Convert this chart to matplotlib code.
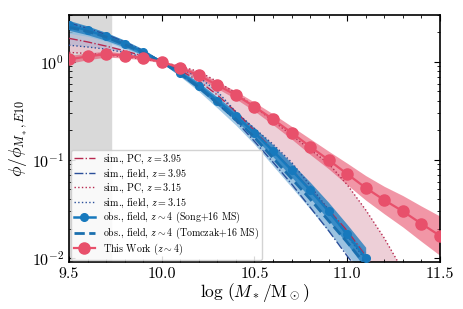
import numpy as np
import matplotlib
matplotlib.use("Agg")
import matplotlib.pyplot as plt

plt.rcParams['font.family'] = 'serif'
plt.rcParams['font.serif'] = ['cmr10']
plt.rcParams['mathtext.fontset'] = 'cm'
plt.rcParams['axes.formatter.use_mathtext'] = True

# data
mass = np.round(np.arange(9.5, 11.51, 0.1), 2)

this_work = [1.06, 1.14, 1.20, 1.16, 1.10, 1.00, 0.87, 0.73, 0.58, 0.46, 0.35,
             0.26, 0.19, 0.137, 0.10, 0.072, 0.052, 0.039, 0.030, 0.0224, 0.0169]
this_work_err = [0.04, 0.035, 0.03, 0.025, 0.02, 0.01, 0.025, 0.03, 0.035, 0.04, 0.045,
                 0.055, 0.065, 0.08, 0.09, 0.11, 0.125, 0.14, 0.16, 0.18, 0.2]  # dex

song_mass = mass[:17]
song = [2.36, 2.10, 1.82, 1.54, 1.26, 1.00, 0.77, 0.57, 0.40, 0.28, 0.19,
        0.124, 0.079, 0.0495, 0.030, 0.0175, 0.010]
song_err = [0.05, 0.045, 0.04, 0.035, 0.03, 0.01, 0.03, 0.035, 0.04, 0.045, 0.05,
            0.06, 0.07, 0.08, 0.09, 0.1, 0.11]

tomczak = [2.25, 2.05, 1.80, 1.50, 1.25, 1.00, 0.76, 0.55, 0.38, 0.26, 0.17,
           0.105, 0.065, 0.040, 0.024, 0.0145, 0.0085]
tomczak_err = [0.06, 0.05, 0.045, 0.04, 0.03, 0.01, 0.03, 0.04, 0.05, 0.06, 0.07,
               0.08, 0.09, 0.1, 0.11, 0.12, 0.13]

pc_395 = [1.74, 1.60, 1.45, 1.30, 1.15, 1.00, 0.82, 0.64, 0.46, 0.31, 0.20,
          0.125, 0.080, 0.050, 0.031, 0.019, 0.0105, 0.0055, 0.003, 0.002, 0.001]
field_395 = [2.50, 2.20, 1.90, 1.60, 1.30, 1.00, 0.75, 0.55, 0.38, 0.25, 0.155,
             0.095, 0.057, 0.033, 0.019, 0.0105, 0.006, 0.0035, 0.002, 0.001, 0.0008]
pc_315 = [1.25, 1.22, 1.18, 1.13, 1.07, 1.00, 0.90, 0.80, 0.63, 0.48, 0.35,
          0.25, 0.18, 0.128, 0.092, 0.056, 0.031, 0.016, 0.0075, 0.004, 0.002]
field_315 = [1.48, 1.42, 1.35, 1.25, 1.12, 1.00, 0.86, 0.70, 0.50, 0.31, 0.21,
             0.145, 0.095, 0.055, 0.031, 0.017, 0.0095, 0.005, 0.003, 0.002, 0.001]

red = '#e8506b'
blue = '#1779bd'
crimson = '#b8284f'
navy = '#2a4f9a'

fig = plt.figure(figsize=(4.63, 3.09), dpi=100)
ax = fig.add_axes([0.149, 0.152, 0.801, 0.799])

ax.axvspan(9.5, 9.725, color='#d9d9d9', zorder=0)

# simulations
ax.fill_between(mass, pc_395, pc_315, color='#e9c3cd', alpha=0.8, lw=0, zorder=1)
ax.fill_between(mass, field_395, field_315, color='#9aa8cf', alpha=0.45, lw=0, zorder=1)
ax.plot(mass, pc_395, color=crimson, ls='-.', lw=1.0, label=r'sim., PC, $z=3.95$', zorder=3)
ax.plot(mass, field_395, color=navy, ls='-.', lw=1.0, label=r'sim., field, $z=3.95$', zorder=3)
ax.plot(mass, pc_315, color=crimson, ls=':', lw=1.0, label=r'sim., PC, $z=3.15$', zorder=3)
ax.plot(mass, field_315, color=navy, ls=':', lw=1.0, label=r'sim., field, $z=3.15$', zorder=3)

# observations
song = np.array(song)
tomczak = np.array(tomczak)
tw = np.array(this_work)
ax.fill_between(song_mass, tomczak * 10**-np.array(tomczak_err), tomczak * 10**np.array(tomczak_err),
                color='#8fbfe0', alpha=0.8, lw=0, zorder=2)
ax.fill_between(song_mass, song * 10**-np.array(song_err), song * 10**np.array(song_err),
                color=blue, alpha=0.75, lw=0, zorder=2)
ax.plot(song_mass, song, color=blue, marker='o', ms=5.5, lw=1.8,
        label=r'obs., field, $z\sim 4$ (Song+16 MS)', zorder=4)
ax.plot(song_mass, tomczak, color='#1a6fae', ls='--', lw=2,
        label=r'obs., field, $z\sim 4$ (Tomczak+16 MS)', zorder=4)

ax.fill_between(mass, tw * 10**-np.array(this_work_err), tw * 10**np.array(this_work_err),
                color=red, alpha=0.6, lw=0, zorder=2)
ax.plot(mass, tw, color=red, marker='o', ms=8, lw=1.6, label=r'This Work ($z\sim 4$)', zorder=5)

ax.set_yscale('log')
ax.set_xlim(9.5, 11.5)
ax.set_ylim(0.0091, 3.0)
ax.set_xticks([9.5, 10.0, 10.5, 11.0, 11.5])
ax.set_xticklabels(['9.5', '10.0', '10.5', '11.0', '11.5'])
ax.xaxis.set_minor_locator(matplotlib.ticker.MultipleLocator(0.1))
ax.tick_params(which='both', direction='in', top=True, right=True, labelsize=11.5)
ax.tick_params(which='major', length=4)
ax.tick_params(which='minor', length=2)
ax.set_xlabel(r'$\log\,(M_*/\mathrm{M}_\odot)$', fontsize=12.5, labelpad=0)
ax.set_ylabel(r'$\phi/\phi_{M_*,E10}$', fontsize=12.5, labelpad=1)
for s in ax.spines.values():
    s.set_linewidth(1.2)

ax.legend(loc='lower left', fontsize=7.2, labelspacing=0.05, handlelength=2.1,
          framealpha=0.85, borderaxespad=0.2, borderpad=0.3)

fig.savefig('out.png', dpi=100)
